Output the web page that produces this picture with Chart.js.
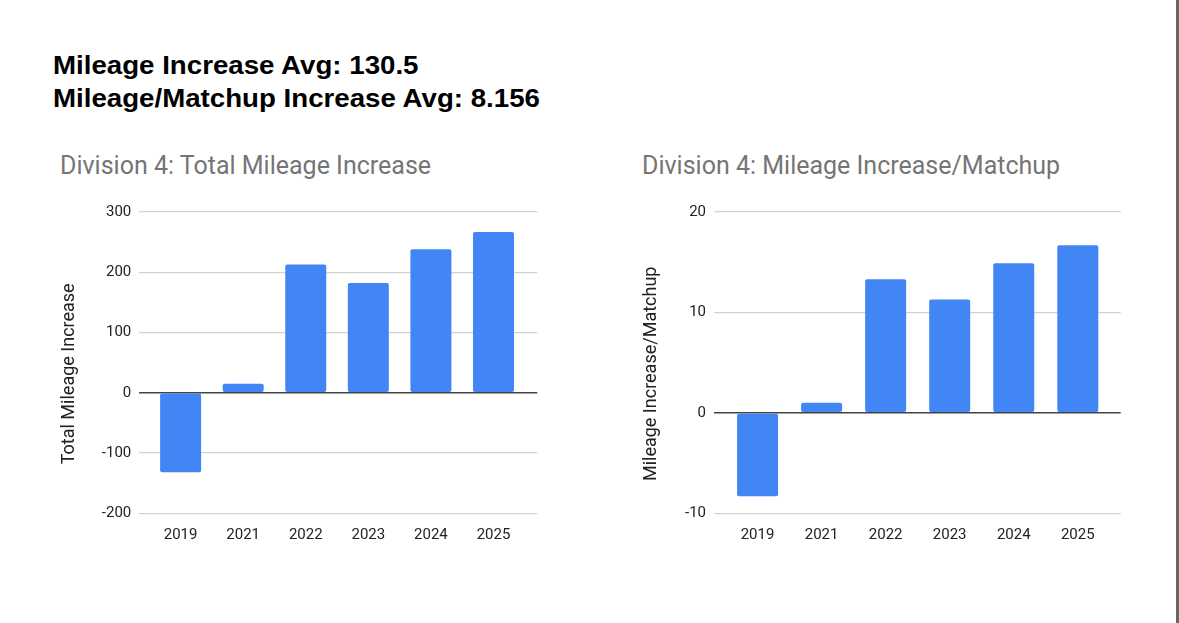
<!DOCTYPE html>
<html>
<head>
<meta charset="utf-8">
<script src="https://cdn.jsdelivr.net/npm/chart.js@4.4.1/dist/chart.umd.min.js"></script>
<style>
  html, body { margin:0; padding:0; background:#fff; width:1179px; height:623px; overflow:hidden; }
  .hdr { position:absolute; left:53px; font-family:"Liberation Sans", Arial, sans-serif; font-weight:bold; font-size:25.5px; color:#000; white-space:nowrap; line-height:30px; transform:scaleX(1.085); transform-origin:0 0; }
  .ttl { position:absolute; font-family:Roboto, "Liberation Sans", sans-serif; font-size:25px; color:#757575; white-space:nowrap; line-height:30px; }
  .wrap { position:absolute; }
  #rule { position:absolute; left:1176px; top:0; width:3px; height:623px; background:#666; }
</style>
</head>
<body>
<div class="hdr" style="top:50px">Mileage Increase Avg: 130.5</div>
<div class="hdr" style="top:83.3px">Mileage/Matchup Increase Avg: 8.156</div>
<div class="ttl" style="left:60px; top:151px">Division 4: Total Mileage Increase</div>
<div class="ttl" style="left:642px; top:151px">Division 4: Mileage Increase/Matchup</div>
<div class="wrap" style="left:50px; top:195px; width:495px; height:355px;"><canvas id="c1"></canvas></div>
<div class="wrap" style="left:630px; top:195px; width:500px; height:355px;"><canvas id="c2"></canvas></div>
<div id="rule"></div>
<script>
const categories = ["2019", "2021", "2022", "2023", "2024", "2025"];
const totalMileageIncrease = [-132, 15, 213, 182, 238, 267];
const mileagePerMatchup = [-8.3, 1.0, 13.3, 11.3, 14.9, 16.7];
const leftTicks = [-200, -100, 0, 100, 200, 300];
const rightTicks = [-10, 0, 10, 20];

const FONT = 'Roboto, "Liberation Sans", sans-serif';
const NB = '\u00A0\u00A0\u00A0\u00A0\u00A0';

function makeChart(id, values, ticks, axisTitle, cfg) {
  new Chart(document.getElementById(id), {
    type: 'bar',
    data: {
      datasets: [{
        data: categories.map((c, i) => ({ x: i, y: values[i] })),
        backgroundColor: '#4285f4',
        borderRadius: 2,
        borderSkipped: false,
        barPercentage: cfg.barPct,
        categoryPercentage: 1.0
      }]
    },
    options: {
      responsive: true,
      maintainAspectRatio: false,
      animation: false,
      layout: { padding: { top: 13.3, right: cfg.rightPad, left: 0, bottom: 0 } },
      plugins: { legend: { display: false }, tooltip: { enabled: false }, title: { display: false } },
      scales: {
        x: {
          type: 'linear',
          offset: false,
          min: cfg.xMin,
          max: cfg.xMax,
          afterBuildTicks: s => { s.ticks = categories.map((c, i) => ({ value: i })); },
          grid: { display: false, drawTicks: false, offset: false },
          border: { display: false },
          ticks: { color: '#222', font: { family: FONT, size: 15 }, padding: 13, maxRotation: 0, autoSkip: false,
                   callback: v => categories[v] },
          afterFit: s => { s.height = 36.7; }
        },
        y: {
          min: ticks[0],
          max: ticks[ticks.length - 1],
          afterBuildTicks: s => { s.ticks = ticks.map(v => ({ value: v })); },
          grid: {
            drawTicks: false,
            color: c => (c.tick && c.tick.value === 0) ? '#444' : '#d2d2d2',
            lineWidth: c => (c.tick && c.tick.value === 0) ? 1.6 : 1.2
          },
          border: { display: false },
          ticks: { color: '#222', font: { family: FONT, size: 15 }, padding: 8 },
          title: { display: true, text: axisTitle + NB, color: '#222', font: { family: FONT, size: 18 }, padding: { top: cfg.titlePad, bottom: 0 } },
          afterFit: s => { s.width = cfg.yWidth; }
        }
      }
    }
  });
}

makeChart('c1', totalMileageIncrease, leftTicks, 'Total Mileage Increase',
  { yWidth: 89.3, rightPad: 7.7, xMin: -0.66, xMax: 5.70, barPct: 0.655, titlePad: 9 });
makeChart('c2', mileagePerMatchup, rightTicks, 'Mileage Increase/Matchup',
  { yWidth: 84, rightPad: 9.3, xMin: -0.68, xMax: 5.67, barPct: 0.64, titlePad: 11 });
</script>
</body>
</html>
